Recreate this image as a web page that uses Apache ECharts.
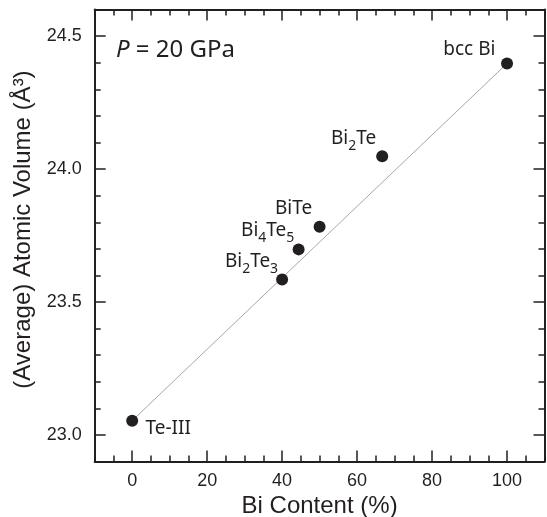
<!DOCTYPE html>
<html><head><meta charset="utf-8">
<script src="https://cdn.jsdelivr.net/npm/echarts@6/dist/echarts.min.js"></script>
<style>html,body{margin:0;padding:0;background:#fff}#c{width:547px;height:517px}</style>
</head><body><div id="c"></div>
<script>
// ---- data ----
const compounds = ['Te-III', 'Bi2Te3', 'Bi4Te5', 'BiTe', 'Bi2Te', 'bcc Bi'];
const compoundLabels = ['Te-III', 'Bi{s|2}Te{s|3}', 'Bi{s|4}Te{s|5}', 'BiTe', 'Bi{s|2}Te', 'bcc Bi'];
const biContent = [0, 40, 44.4, 50, 66.7, 100];
const atomicVolume = [23.054, 23.585, 23.698, 23.783, 24.048, 24.397];
const xTickLabels = [0, 20, 40, 60, 80, 100];
const yTickLabels = [23.0, 23.5, 24.0, 24.5];
const pressureNote = '{i|P} = 20 GPa';

// ---- styling / layout ----
const INK = '#231f20';
const AXFONT = 'Liberation Sans, Arial, Helvetica, sans-serif';
const LBLFONT = 'Noto Sans, Open Sans, sans-serif';
const labelPlacement = [
  {position: [19.3, 1.9], align: 'left', verticalAlign: 'top'},
  {position: [2, 0.3], align: 'right', verticalAlign: 'bottom'},
  {position: [1.7, -0.3], align: 'right', verticalAlign: 'bottom'},
  {position: [-1.4, -0.1], align: 'right', verticalAlign: 'bottom'},
  {position: [0, 0.6], align: 'right', verticalAlign: 'bottom'},
  {position: [-5.6, 4.4], align: 'right', verticalAlign: 'bottom'}
];

function xAxisDef(pos, major) {
  const a = {
    type: 'value', min: -10, max: 110, interval: 5, position: pos,
    axisLine: {show: major, onZero: false, lineStyle: {color: INK, width: 2}},
    axisTick: {show: true, inside: true, length: major ? 11 : 6, lineStyle: {color: INK, width: 1.5}},
    axisLabel: {show: false},
    splitLine: {show: false}
  };
  if (major) a.axisTick.customValues = xTickLabels;
  if (major && pos === 'bottom') {
    a.axisLabel = {show: true, margin: 10, fontSize: 18, fontFamily: AXFONT, color: INK,
      customValues: xTickLabels, formatter: v => String(v)};
    a.name = 'Bi Content (%)';
    a.nameLocation = 'middle';
    a.nameGap = 29;
    a.nameTextStyle = {fontSize: 24, fontFamily: AXFONT, color: INK};
  }
  return a;
}
function yAxisDef(pos, major) {
  const a = {
    type: 'value', min: 22.9, max: 24.6, interval: 0.1, position: pos,
    axisLine: {show: major, onZero: false, lineStyle: {color: INK, width: 2}},
    axisTick: {show: true, inside: true, length: major ? 11 : 6, lineStyle: {color: INK, width: 1.5}},
    axisLabel: {show: false},
    splitLine: {show: false}
  };
  if (major) a.axisTick.customValues = yTickLabels;
  if (major && pos === 'left') {
    a.axisLabel = {show: true, margin: 13, fontSize: 18, fontFamily: AXFONT, color: INK,
      customValues: yTickLabels, formatter: v => Number(v).toFixed(1)};
    a.name = '(Average) Atomic Volume (Å³)';
    a.nameLocation = 'middle';
    a.nameGap = 59;
    a.nameTextStyle = {fontSize: 24, fontFamily: AXFONT, color: INK, padding: [0, 0, 0, 12]};
  }
  return a;
}

const chart = echarts.init(document.getElementById('c'), null, {renderer: 'canvas'});
chart.setOption({
  animation: false,
  backgroundColor: '#fff',
  grid: {left: 94.7, right: 2.5, top: 9.5, bottom: 55.4, containLabel: false, outerBoundsMode: 'none'},
  xAxis: [xAxisDef('bottom', true), xAxisDef('bottom', false), xAxisDef('top', true), xAxisDef('top', false)],
  yAxis: [yAxisDef('left', true), yAxisDef('left', false), yAxisDef('right', true), yAxisDef('right', false)],
  graphic: [{
    type: 'text', left: 116, top: 38,
    style: {text: pressureNote, fontFamily: LBLFONT, fontSize: 24, fill: INK,
      rich: {i: {fontStyle: 'italic', fontSize: 24, fontFamily: LBLFONT, fill: INK}}}
  }],
  series: [
    {
      type: 'line', xAxisIndex: 0, yAxisIndex: 0, symbol: 'none', silent: true, z: 1,
      lineStyle: {color: '#a6a8ab', width: 1},
      data: [[biContent[0], atomicVolume[0]], [biContent[biContent.length - 1], atomicVolume[atomicVolume.length - 1]]]
    },
    {
      type: 'scatter', xAxisIndex: 0, yAxisIndex: 0, symbolSize: 12, z: 3,
      itemStyle: {color: INK, opacity: 1},
      data: biContent.map((x, i) => ({
        name: compounds[i],
        value: [x, atomicVolume[i]],
        label: Object.assign({show: true, formatter: compoundLabels[i]}, labelPlacement[i])
      })),
      label: {
        show: true, fontSize: 19, lineHeight: 24, fontFamily: LBLFONT, color: INK, opacity: 1,
        rich: {s: {fontSize: 14, lineHeight: 24, fontFamily: LBLFONT, color: INK, padding: [14, 0, 0, 0]}}
      }
    }
  ]
});
</script></body></html>
